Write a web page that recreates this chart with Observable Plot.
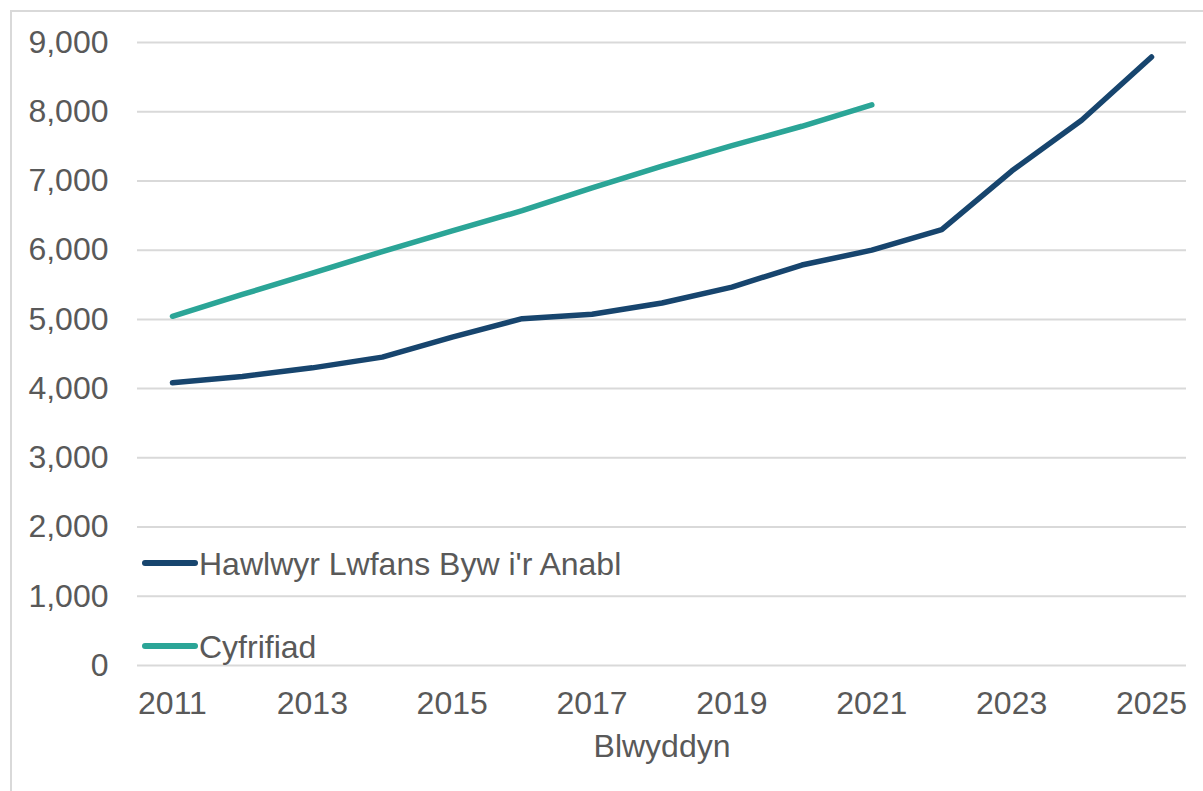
<!DOCTYPE html>
<html>
<head>
<meta charset="utf-8">
<script src="https://cdn.jsdelivr.net/npm/d3@7"></script>
<script src="https://cdn.jsdelivr.net/npm/@observablehq/plot@0.6"></script>
<style>
  html, body { margin: 0; padding: 0; background: #ffffff; overflow: hidden; width: 1203px; height: 791px; }
  #wrap { position: relative; width: 1203px; height: 791px; font-family: "Liberation Sans", Arial, sans-serif; }
  #frame { position: absolute; left: 10px; top: 10px; width: 1300px; height: 900px; border: 2px solid #d9d9d9; box-sizing: border-box; }
  #chart { position: absolute; left: 0; top: 0; }
  .sw { position: absolute; left: 142px; width: 56px; height: 6px; border-radius: 3px; }
  .lt { position: absolute; left: 199px; font-size: 32px; color: #595959; line-height: 1; white-space: nowrap; }
</style>
</head>
<body>
<div id="wrap">
  <div id="frame"></div>
  <div id="chart"></div>
  <div id="legend"></div>
</div>
<script>
// ---- data ----
const years = [2011, 2012, 2013, 2014, 2015, 2016, 2017, 2018, 2019, 2020, 2021, 2022, 2023, 2024, 2025];
const claimants = [4085, 4175, 4300, 4455, 4745, 5010, 5075, 5236, 5467, 5785, 6000, 6296, 7143, 7876, 8790];
const censusYears = [2011, 2012, 2013, 2014, 2015, 2016, 2017, 2018, 2019, 2020, 2021];
const census = [5045, 5360, 5670, 5980, 6280, 6570, 6900, 7215, 7510, 7790, 8100];
const seriesNames = ["Hawlwyr Lwfans Byw i'r Anabl", "Cyfrifiad"];
const seriesColors = ["#17456e", "#2ba597"];
const xTicks = [2011, 2013, 2015, 2017, 2019, 2021, 2023, 2025];
const yTicks = [0, 1000, 2000, 3000, 4000, 5000, 6000, 7000, 8000, 9000];
const xTitle = "Blwyddyn";

const rows = [
  ...years.map((y, i) => ({year: y, value: claimants[i], series: seriesNames[0]})),
  ...censusYears.map((y, i) => ({year: y, value: census[i], series: seriesNames[1]}))
];

const textColor = "#595959";
const fontFamily = "'Liberation Sans', Arial, sans-serif";

const chart = Plot.plot({
  width: 1203,
  height: 791,
  marginLeft: 137,
  marginRight: 17,
  marginTop: 42,
  marginBottom: 126,
  style: {fontFamily, fontSize: "32px", color: textColor, background: "transparent", overflow: "visible"},
  x: {domain: [2010.5, 2025.5]},
  y: {domain: [0, 9000]},
  color: {domain: seriesNames, range: seriesColors},
  marks: [
    Plot.gridY(yTicks, {stroke: "#d9d9d9", strokeOpacity: 1, strokeWidth: 2}),
    Plot.axisY(yTicks, {tickSize: 0, tickPadding: 29, tickFormat: d3.format(","), label: null, fill: textColor, fontSize: 32}),
    Plot.axisX(xTicks, {tickSize: 0, tickPadding: 26, tickFormat: d => String(d), label: null, fill: textColor, fontSize: 32}),
    Plot.text([xTitle], {text: d => d, frameAnchor: "bottom", dy: 91, fill: textColor, fontSize: 32}),
    Plot.lineY(rows, {x: "year", y: "value", z: "series", stroke: "series", strokeWidth: 5.5, strokeLinecap: "round", strokeLinejoin: "round"})
  ]
});
document.getElementById("chart").appendChild(chart);

// legend (inside plot area, bottom-left)
const legend = document.getElementById("legend");
const swatchCenters = [563, 646];
seriesNames.forEach((name, i) => {
  const sw = document.createElement("div");
  sw.className = "sw";
  sw.style.top = (swatchCenters[i] - 3) + "px";
  sw.style.background = seriesColors[i];
  const label = document.createElement("div");
  label.className = "lt";
  label.style.top = (swatchCenters[i] + 12.5 - 27.1) + "px";
  label.textContent = name;
  legend.appendChild(sw);
  legend.appendChild(label);
});
</script>
</body>
</html>
